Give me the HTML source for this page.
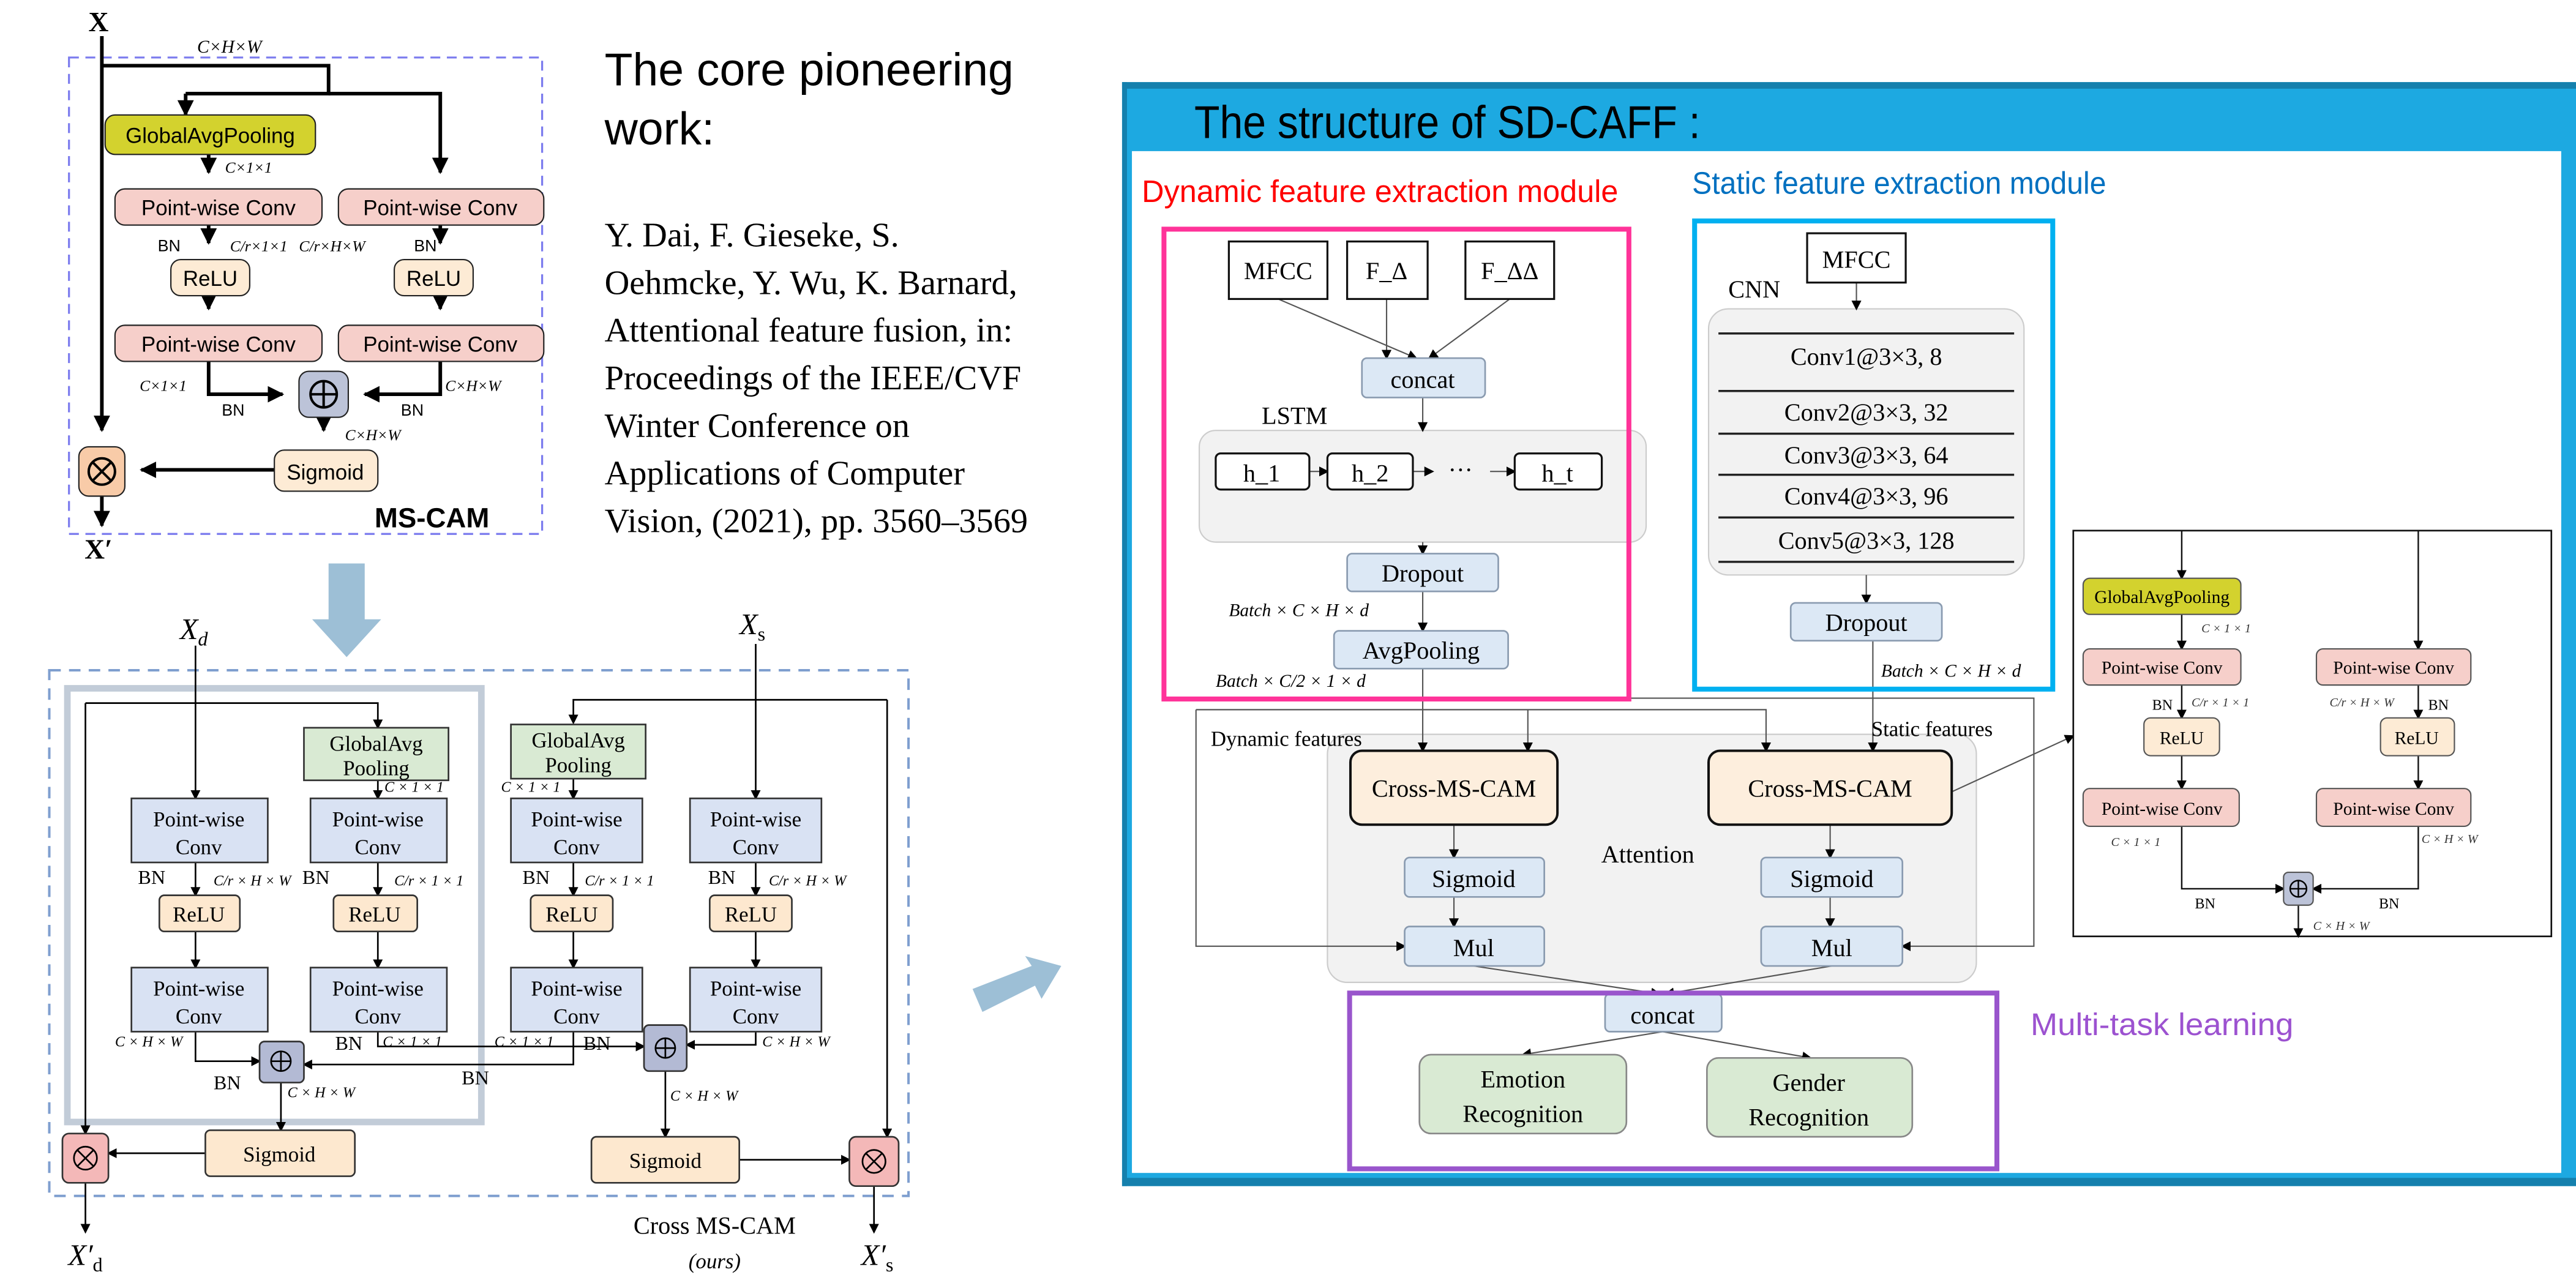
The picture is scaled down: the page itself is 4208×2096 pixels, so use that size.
<!DOCTYPE html>
<html><head><meta charset="utf-8"><style>
html,body{margin:0;padding:0;background:#fff;width:4208px;height:2096px;overflow:hidden}
svg{display:block}
.s{font-family:"Liberation Serif",serif}
.a{font-family:"Liberation Sans",sans-serif}
.n{font-family:"Liberation Sans Narrow","Liberation Sans",sans-serif}
</style></head><body>
<svg width="4208" height="2096" viewBox="0 0 1568 781" preserveAspectRatio="none" xmlns="http://www.w3.org/2000/svg">
<defs>
<marker id="ab" markerWidth="6" markerHeight="6" refX="5" refY="3" orient="auto" markerUnits="userSpaceOnUse"><path d="M0,0L6,3L0,6z" fill="#000"/></marker>
<marker id="ah" markerWidth="10" markerHeight="10" refX="9" refY="5" orient="auto" markerUnits="userSpaceOnUse"><path d="M0,0L10,5L0,10z" fill="#000"/></marker>
</defs>
<rect width="1568" height="781" fill="#fff"/>

<!-- ===== MS-CAM top-left ===== -->
<g class="a">
<text x="60" y="19" font-size="17" font-weight="bold" class="s" text-anchor="middle">X</text>
<text x="120" y="32" font-size="11" font-style="italic" class="s">C×H×W</text>
<rect x="42" y="35" width="288" height="290" fill="none" stroke="#7b7bee" stroke-width="1.2" stroke-dasharray="6,4"/>
<g stroke="#000" stroke-width="2.2" fill="none">
<path d="M62,22V262" marker-end="url(#ah)"/>
<path d="M62,40H200V57H113"/><path d="M113,57V70" marker-end="url(#ah)"/>
<path d="M200,57H268V105" marker-end="url(#ah)"/>
<path d="M127,94V105" marker-end="url(#ah)"/>
<path d="M127,137V148" marker-end="url(#ah)"/>
<path d="M268,137V148" marker-end="url(#ah)"/>
<path d="M127,180V188" marker-end="url(#ah)"/>
<path d="M268,180V188" marker-end="url(#ah)"/>
<path d="M127,220V240H172" marker-end="url(#ah)"/>
<path d="M268,220V240H222" marker-end="url(#ah)"/>
<path d="M197,253V262" marker-end="url(#ah)"/>
<path d="M167,286H86" marker-end="url(#ah)"/>
<path d="M62,302V320" marker-end="url(#ah)"/>
</g>
<rect x="64" y="70" width="128" height="24" rx="6" fill="#d3d22e" stroke="#222" stroke-width="0.8"/>
<text x="128" y="87" font-size="13" text-anchor="middle">GlobalAvgPooling</text>
<text x="137" y="105" font-size="9.5" font-style="italic" class="s">C×1×1</text>
<rect x="70" y="115" width="126" height="22" rx="6" fill="#f6cfca" stroke="#222" stroke-width="0.8"/>
<text x="133" y="131" font-size="13" text-anchor="middle">Point-wise Conv</text>
<rect x="206" y="115" width="125" height="22" rx="6" fill="#f6cfca" stroke="#222" stroke-width="0.8"/>
<text x="268" y="131" font-size="13" text-anchor="middle">Point-wise Conv</text>
<text x="96" y="153" font-size="10">BN</text>
<text x="140" y="153" font-size="9.5" font-style="italic" class="s">C/r×1×1</text>
<text x="182" y="153" font-size="9.5" font-style="italic" class="s">C/r×H×W</text>
<text x="252" y="153" font-size="10">BN</text>
<rect x="104" y="158" width="48" height="22" rx="6" fill="#fdebd5" stroke="#222" stroke-width="0.8"/>
<text x="128" y="174" font-size="13" text-anchor="middle">ReLU</text>
<rect x="240" y="158" width="48" height="22" rx="6" fill="#fdebd5" stroke="#222" stroke-width="0.8"/>
<text x="264" y="174" font-size="13" text-anchor="middle">ReLU</text>
<rect x="70" y="198" width="126" height="22" rx="6" fill="#f6cfca" stroke="#222" stroke-width="0.8"/>
<text x="133" y="214" font-size="13" text-anchor="middle">Point-wise Conv</text>
<rect x="206" y="198" width="125" height="22" rx="6" fill="#f6cfca" stroke="#222" stroke-width="0.8"/>
<text x="268" y="214" font-size="13" text-anchor="middle">Point-wise Conv</text>
<rect x="182" y="226" width="30" height="28" rx="6" fill="#bcc3d8" stroke="#222" stroke-width="0.8"/>
<circle cx="197" cy="240" r="8" fill="none" stroke="#000" stroke-width="1.5"/><path d="M189,240H205M197,232V248" stroke="#000" stroke-width="1.5"/>
<text x="85" y="238" font-size="9.5" font-style="italic" class="s">C×1×1</text>
<text x="135" y="253" font-size="10">BN</text>
<text x="271" y="238" font-size="9.5" font-style="italic" class="s">C×H×W</text>
<text x="244" y="253" font-size="10">BN</text>
<text x="210" y="268" font-size="9.5" font-style="italic" class="s">C×H×W</text>
<rect x="167" y="274" width="63" height="25" rx="6" fill="#fdebd5" stroke="#222" stroke-width="0.8"/>
<text x="198" y="292" font-size="13" text-anchor="middle">Sigmoid</text>
<rect x="48" y="272" width="28" height="30" rx="6" fill="#f8cba8" stroke="#222" stroke-width="0.8"/>
<circle cx="62" cy="287" r="8" fill="none" stroke="#000" stroke-width="1.5"/><path d="M56.5,281.5L67.5,292.5M67.5,281.5L56.5,292.5" stroke="#000" stroke-width="1.5"/>
<text x="228" y="321" font-size="17" font-weight="bold">MS-CAM</text>
<text x="60" y="340" font-size="17" font-weight="bold" class="s" text-anchor="middle">X′</text>
</g>

<!-- ===== citation text ===== -->
<text x="368" y="52" font-size="28" class="a">The core pioneering</text>
<text x="368" y="88" font-size="28" class="a">work:</text>
<g class="s" font-size="21">
<text x="368" y="150">Y. Dai, F. Gieseke, S.</text>
<text x="368" y="179">Oehmcke, Y. Wu, K. Barnard,</text>
<text x="368" y="208">Attentional feature fusion, in:</text>
<text x="368" y="237">Proceedings of the IEEE/CVF</text>
<text x="368" y="266">Winter Conference on</text>
<text x="368" y="295">Applications of Computer</text>
<text x="368" y="324">Vision, (2021), pp. 3560–3569</text>
</g>

<!-- down arrow -->
<path d="M200,343H222V377H232L211,400L190,377H200Z" fill="#9dbfd6"/>
<!-- right arrow -->
<path d="M592,602L628,588L624,582L646,588L634,608L630,600L598,616Z" fill="#9dbfd6"/>

<!-- ===== Cross MS-CAM bottom-left ===== -->
<g class="s">
<text x="118" y="389" font-size="18" font-style="italic" text-anchor="middle">X<tspan font-size="12" dy="4">d</tspan></text>
<text x="458" y="386" font-size="18" font-style="italic" text-anchor="middle">X<tspan font-size="12" dy="4" font-style="normal">s</tspan></text>
<rect x="30" y="408" width="523" height="320" fill="none" stroke="#7f9fcf" stroke-width="1.5" stroke-dasharray="7,5"/>
<rect x="41" y="419" width="252" height="264" fill="none" stroke="#c2ccd8" stroke-width="4"/>
<g stroke="#000" stroke-width="1" fill="none">
<path d="M119,393V486" marker-end="url(#ab)"/>
<path d="M52,428H230V443" marker-end="url(#ab)"/>
<path d="M52,428V690" marker-end="url(#ab)"/>
<path d="M230,475V486" marker-end="url(#ab)"/>
<path d="M119,525V545" marker-end="url(#ab)"/>
<path d="M230,525V545" marker-end="url(#ab)"/>
<path d="M119,567V589" marker-end="url(#ab)"/>
<path d="M230,567V589" marker-end="url(#ab)"/>
<path d="M119,628V646H158" marker-end="url(#ab)"/>
<path d="M230,628V637H392" marker-end="url(#ab)"/>
<path d="M349,628V648H185" marker-end="url(#ab)"/>
<path d="M460,628V636H418" marker-end="url(#ab)"/>
<path d="M171,658V688" marker-end="url(#ab)"/>
<path d="M405,652V692" marker-end="url(#ab)"/>
<path d="M125,702H66" marker-end="url(#ab)"/>
<path d="M450,706H517" marker-end="url(#ab)"/>
<path d="M460,392V486" marker-end="url(#ab)"/>
<path d="M540,426H349V440" marker-end="url(#ab)"/>
<path d="M540,426V692" marker-end="url(#ab)"/>
<path d="M349,474V486" marker-end="url(#ab)"/>
<path d="M349,525V545" marker-end="url(#ab)"/>
<path d="M460,525V545" marker-end="url(#ab)"/>
<path d="M349,567V589" marker-end="url(#ab)"/>
<path d="M460,567V589" marker-end="url(#ab)"/>
<path d="M52,720V750" marker-end="url(#ab)"/>
<path d="M532,722V750" marker-end="url(#ab)"/>
</g>
<g stroke="#333" stroke-width="1">
<rect x="185" y="443" width="88" height="32" fill="#d9ead3"/>
<rect x="311" y="441" width="82" height="33" fill="#d9ead3"/>
<rect x="80" y="486" width="83" height="39" fill="#d9e2f3"/>
<rect x="189" y="486" width="83" height="39" fill="#d9e2f3"/>
<rect x="311" y="486" width="80" height="39" fill="#d9e2f3"/>
<rect x="420" y="486" width="80" height="39" fill="#d9e2f3"/>
<rect x="97" y="545" width="49" height="22" rx="3" fill="#fde8cf"/>
<rect x="203" y="545" width="51" height="22" rx="3" fill="#fde8cf"/>
<rect x="323" y="545" width="50" height="22" rx="3" fill="#fde8cf"/>
<rect x="432" y="545" width="50" height="22" rx="3" fill="#fde8cf"/>
<rect x="80" y="589" width="83" height="39" fill="#d9e2f3"/>
<rect x="189" y="589" width="83" height="39" fill="#d9e2f3"/>
<rect x="311" y="589" width="80" height="39" fill="#d9e2f3"/>
<rect x="420" y="589" width="80" height="39" fill="#d9e2f3"/>
<rect x="158" y="634" width="27" height="25" rx="3" fill="#b3bad4"/>
<rect x="392" y="624" width="26" height="28" rx="3" fill="#b3bad4"/>
<rect x="125" y="688" width="91" height="28" rx="3" fill="#fde8cf"/>
<rect x="360" y="692" width="90" height="28" rx="3" fill="#fde8cf"/>
<rect x="38" y="690" width="28" height="30" rx="4" fill="#f4b8b8"/>
<rect x="517" y="692" width="30" height="30" rx="4" fill="#f4b8b8"/>
</g>
<g fill="none" stroke="#000" stroke-width="1">
<circle cx="171" cy="646" r="6"/><path d="M165,646H177M171,640V652"/>
<circle cx="405" cy="638" r="6"/><path d="M399,638H411M405,632V644"/>
<circle cx="52" cy="705" r="7"/><path d="M47,700L57,710M57,700L47,710"/>
<circle cx="532" cy="707" r="7"/><path d="M527,702L537,712M537,702L527,712"/>
</g>
<g font-size="13" text-anchor="middle">
<text x="229" y="457">GlobalAvg</text><text x="229" y="472">Pooling</text>
<text x="352" y="455">GlobalAvg</text><text x="352" y="470">Pooling</text>
<text x="121" y="503">Point-wise</text><text x="121" y="520">Conv</text>
<text x="230" y="503">Point-wise</text><text x="230" y="520">Conv</text>
<text x="351" y="503">Point-wise</text><text x="351" y="520">Conv</text>
<text x="460" y="503">Point-wise</text><text x="460" y="520">Conv</text>
<text x="121" y="606">Point-wise</text><text x="121" y="623">Conv</text>
<text x="230" y="606">Point-wise</text><text x="230" y="623">Conv</text>
<text x="351" y="606">Point-wise</text><text x="351" y="623">Conv</text>
<text x="460" y="606">Point-wise</text><text x="460" y="623">Conv</text>
<text x="121" y="561">ReLU</text><text x="228" y="561">ReLU</text>
<text x="348" y="561">ReLU</text><text x="457" y="561">ReLU</text>
<text x="170" y="707">Sigmoid</text><text x="405" y="711">Sigmoid</text>
</g>
<g font-size="9" font-style="italic">
<text x="234" y="482">C × 1 × 1</text><text x="305" y="482">C × 1 × 1</text>
<text x="130" y="539">C/r × H × W</text><text x="240" y="539">C/r × 1 × 1</text>
<text x="356" y="539">C/r × 1 × 1</text><text x="468" y="539">C/r × H × W</text>
<text x="70" y="637">C × H × W</text><text x="233" y="637">C × 1 × 1</text>
<text x="301" y="637">C × 1 × 1</text><text x="464" y="637">C × H × W</text>
<text x="175" y="668">C × H × W</text><text x="408" y="670">C × H × W</text>
</g>
<g font-size="12">
<text x="84" y="538">BN</text><text x="184" y="538">BN</text><text x="318" y="538">BN</text><text x="431" y="538">BN</text>
<text x="204" y="639">BN</text><text x="355" y="639">BN</text>
<text x="130" y="663">BN</text><text x="281" y="660">BN</text>
</g>
<text x="435" y="751" font-size="15" text-anchor="middle">Cross MS-CAM</text>
<text x="435" y="772" font-size="13" font-style="italic" text-anchor="middle">(ours)</text>
<text x="52" y="770" font-size="18" font-style="italic" text-anchor="middle">X′<tspan font-size="12" dy="4" font-style="normal">d</tspan></text>
<text x="534" y="770" font-size="18" font-style="italic" text-anchor="middle">X′<tspan font-size="12" dy="4" font-style="normal">s</tspan></text>
</g>

<!-- ===== Right panel ===== -->
<rect x="683" y="50" width="885" height="672" fill="#1da9e1"/>
<rect x="683" y="50" width="885" height="4" fill="#1580ad"/>
<rect x="683" y="717" width="885" height="5" fill="#1580ad"/>
<rect x="683" y="50" width="3" height="672" fill="#1580ad"/>
<rect x="689" y="92" width="870" height="622" fill="#fff"/>
<text x="727" y="84" font-size="28" class="n" textLength="308" lengthAdjust="spacingAndGlyphs">The structure of SD-CAFF :</text>
<text x="695" y="123" font-size="19" fill="#ff0000" class="n" textLength="290" lengthAdjust="spacingAndGlyphs">Dynamic feature extraction module</text>
<text x="1030" y="118" font-size="19" fill="#0070c0" class="n" textLength="252" lengthAdjust="spacingAndGlyphs">Static feature extraction module</text>
<text x="1236" y="630" font-size="19" fill="#9c52d0" class="n" textLength="160" lengthAdjust="spacingAndGlyphs">Multi-task learning</text>

<g class="s">
<rect x="730" y="262" width="272" height="68" rx="10" fill="#f2f2f2" stroke="#ccc" stroke-width="0.8"/>
<rect x="1040" y="188" width="192" height="162" rx="12" fill="#f2f2f2" stroke="#ccc" stroke-width="0.8"/>
<rect x="808" y="447" width="395" height="151" rx="12" fill="#f2f2f2" stroke="#ccc" stroke-width="0.8"/>
<g stroke="#555" stroke-width="0.8" fill="none">
<path d="M778,182L862,218" marker-end="url(#ab)"/>
<path d="M844,182V218" marker-end="url(#ab)"/>
<path d="M919,182L870,218" marker-end="url(#ab)"/>
<path d="M866,242V262" marker-end="url(#ab)"/>
<path d="M797,287H808" marker-end="url(#ab)"/>
<path d="M860,287H872" marker-end="url(#ab)"/>
<path d="M907,287H922" marker-end="url(#ab)"/>
<path d="M866,330V337" marker-end="url(#ab)"/>
<path d="M866,360V384" marker-end="url(#ab)"/>
<path d="M866,407V457" marker-end="url(#ab)"/>
<path d="M1130,172V188" marker-end="url(#ab)"/>
<path d="M1136,350V367" marker-end="url(#ab)"/>
<path d="M1140,390V457" marker-end="url(#ab)"/>
<path d="M930,432V457" marker-end="url(#ab)"/>
<path d="M930,425H1238V576H1158" marker-end="url(#ab)"/>
<path d="M728,432H1075V457" marker-end="url(#ab)"/>
<path d="M728,432V576H855" marker-end="url(#ab)"/>
<path d="M885,502V522" marker-end="url(#ab)"/>
<path d="M1114,502V522" marker-end="url(#ab)"/>
<path d="M885,546V564" marker-end="url(#ab)"/>
<path d="M1114,546V564" marker-end="url(#ab)"/>
<path d="M897,588L1010,605" marker-end="url(#ab)"/>
<path d="M1115,588L1014,605" marker-end="url(#ab)"/>
<path d="M1012,628L927,642" marker-end="url(#ab)"/>
<path d="M1012,628L1102,644" marker-end="url(#ab)"/>
<path d="M1188,482L1262,448" marker-end="url(#ab)"/>
</g>
<g stroke="#111" stroke-width="1.2" fill="#fff">
<rect x="748" y="147" width="60" height="35"/>
<rect x="820" y="147" width="49" height="35"/>
<rect x="892" y="147" width="54" height="35"/>
<rect x="1100" y="142" width="60" height="30"/>
<rect x="740" y="276" width="57" height="22" rx="3"/>
<rect x="808" y="276" width="52" height="22" rx="3"/>
<rect x="922" y="276" width="53" height="22" rx="3"/>
</g>
<g stroke="#8a9bb0" stroke-width="1" fill="#dce8f5">
<rect x="829" y="218" width="75" height="24" rx="3"/>
<rect x="820" y="337" width="92" height="23" rx="3"/>
<rect x="812" y="384" width="106" height="23" rx="3"/>
<rect x="1090" y="367" width="92" height="23" rx="3"/>
<rect x="855" y="522" width="85" height="24" rx="3"/>
<rect x="1072" y="522" width="86" height="24" rx="3"/>
<rect x="855" y="564" width="85" height="24" rx="3"/>
<rect x="1072" y="564" width="86" height="24" rx="3"/>
<rect x="977" y="605" width="71" height="23" rx="3"/>
</g>
<g stroke="#111" stroke-width="1.5" fill="#fdeedd">
<rect x="822" y="457" width="126" height="45" rx="7"/>
<rect x="1040" y="457" width="148" height="45" rx="7"/>
</g>
<g stroke="#888" stroke-width="1" fill="#d9ead3">
<rect x="864" y="642" width="126" height="48" rx="7"/>
<rect x="1039" y="644" width="125" height="48" rx="7"/>
</g>
<g stroke="#222" stroke-width="1.3">
<path d="M1046,203H1226M1046,238H1226M1046,264H1226M1046,289H1226M1046,315H1226M1046,342H1226"/>
</g>
<g font-size="15" text-anchor="middle">
<text x="778" y="170">MFCC</text><text x="844" y="170">F_Δ</text><text x="919" y="170">F_ΔΔ</text>
<text x="1130" y="163">MFCC</text>
<text x="866" y="236">concat</text>
<text x="768" y="258" text-anchor="start">LSTM</text>
<text x="1052" y="181" text-anchor="start">CNN</text>
<text x="768" y="293">h_1</text><text x="834" y="293">h_2</text><text x="889" y="291">···</text><text x="948" y="293">h_t</text>
<text x="866" y="354">Dropout</text>
<text x="865" y="401">AvgPooling</text>
<text x="1136" y="384">Dropout</text>
<text x="1136" y="222">Conv1@3×3, 8</text>
<text x="1136" y="256">Conv2@3×3, 32</text>
<text x="1136" y="282">Conv3@3×3, 64</text>
<text x="1136" y="307">Conv4@3×3, 96</text>
<text x="1136" y="334">Conv5@3×3, 128</text>
<text x="885" y="485">Cross-MS-CAM</text>
<text x="1114" y="485">Cross-MS-CAM</text>
<text x="1003" y="525">Attention</text>
<text x="897" y="540">Sigmoid</text><text x="1115" y="540">Sigmoid</text>
<text x="897" y="582">Mul</text><text x="1115" y="582">Mul</text>
<text x="1012" y="623">concat</text>
<text x="927" y="662">Emotion</text><text x="927" y="683">Recognition</text>
<text x="1101" y="664">Gender</text><text x="1101" y="685">Recognition</text>
</g>
<text x="737" y="454" font-size="13">Dynamic features</text>
<text x="1139" y="448" font-size="13">Static features</text>
<g font-size="11" font-style="italic">
<text x="748" y="375">Batch × C × H × d</text>
<text x="740" y="418">Batch × C/2 × 1 × d</text>
<text x="1145" y="412">Batch × C × H × d</text>
</g>
</g>
<rect x="708.5" y="139.5" width="283" height="286" fill="none" stroke="#ff3399" stroke-width="3"/>
<rect x="1031.5" y="134.5" width="218" height="285" fill="none" stroke="#00b0f0" stroke-width="3"/>
<rect x="821.5" y="604.5" width="394" height="107" fill="none" stroke="#9955cc" stroke-width="3"/>

<!-- inset MS-CAM -->
<g class="s">
<rect x="1262" y="323" width="291" height="247" fill="#fff" stroke="#111" stroke-width="1"/>
<g stroke="#111" stroke-width="0.9" fill="none">
<path d="M1328,323V352" marker-end="url(#ab)"/>
<path d="M1472,323V395" marker-end="url(#ab)"/>
<path d="M1328,374V395" marker-end="url(#ab)"/>
<path d="M1328,417V437" marker-end="url(#ab)"/>
<path d="M1472,417V437" marker-end="url(#ab)"/>
<path d="M1328,460V480" marker-end="url(#ab)"/>
<path d="M1472,460V480" marker-end="url(#ab)"/>
<path d="M1328,503V541H1390" marker-end="url(#ab)"/>
<path d="M1472,503V541H1408" marker-end="url(#ab)"/>
<path d="M1399,551V570" marker-end="url(#ab)"/>
</g>
<g stroke="#555" stroke-width="0.8">
<rect x="1268" y="352" width="96" height="22" rx="4" fill="#d3d22e"/>
<rect x="1268" y="395" width="96" height="22" rx="4" fill="#f6cfca"/>
<rect x="1410" y="395" width="94" height="22" rx="4" fill="#f6cfca"/>
<rect x="1305" y="437" width="46" height="23" rx="4" fill="#fdebd5"/>
<rect x="1449" y="437" width="45" height="23" rx="4" fill="#fdebd5"/>
<rect x="1268" y="480" width="95" height="23" rx="4" fill="#f6cfca"/>
<rect x="1410" y="480" width="94" height="23" rx="4" fill="#f6cfca"/>
<rect x="1390" y="531" width="18" height="20" rx="3" fill="#bcc3d8"/>
</g>
<circle cx="1399" cy="541" r="5" fill="none" stroke="#000" stroke-width="0.9"/><path d="M1394,541H1404M1399,536V546" stroke="#000" stroke-width="0.9"/>
<g font-size="11" text-anchor="middle">
<text x="1316" y="367">GlobalAvgPooling</text>
<text x="1316" y="410">Point-wise Conv</text><text x="1457" y="410">Point-wise Conv</text>
<text x="1328" y="453">ReLU</text><text x="1471" y="453">ReLU</text>
<text x="1316" y="496">Point-wise Conv</text><text x="1457" y="496">Point-wise Conv</text>
</g>
<g font-size="9">
<text x="1310" y="432">BN</text><text x="1478" y="432">BN</text>
<text x="1336" y="553">BN</text><text x="1448" y="553">BN</text>
</g>
<g font-size="7.5" font-style="italic" fill="#333">
<text x="1340" y="385">C × 1 × 1</text>
<text x="1334" y="430">C/r × 1 × 1</text>
<text x="1418" y="430">C/r × H × W</text>
<text x="1285" y="515">C × 1 × 1</text>
<text x="1474" y="513">C × H × W</text>
<text x="1408" y="566">C × H × W</text>
</g>
</g>
</svg>
</body></html>
